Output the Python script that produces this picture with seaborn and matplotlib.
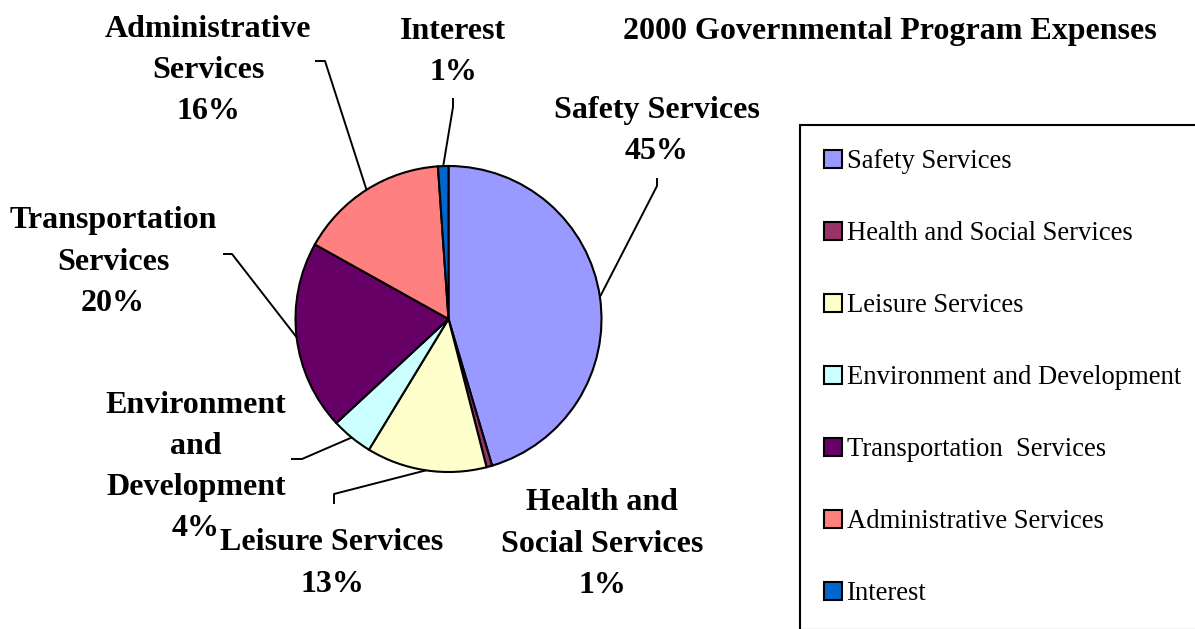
import numpy as np
import matplotlib
matplotlib.use("Agg")
import matplotlib.pyplot as plt
import seaborn as sns

# Program expense shares (percent of total), clockwise from 12 o'clock
categories = [
    "Safety Services",
    "Health and Social Services",
    "Leisure Services",
    "Environment and Development",
    "Transportation  Services",
    "Administrative Services",
    "Interest",
]
shares = [45.4, 0.6, 12.7, 4.4, 20.0, 15.8, 1.1]
slice_names = [
    "Safety Services",
    "Health and\nSocial Services",
    "Leisure Services",
    "Environment\nand\nDevelopment",
    "Transportation\nServices",
    "Administrative\nServices",
    "Interest",
]
colors = ["#9999FF", "#993366", "#FFFFCC", "#CCFFFF", "#660066", "#FF8080", "#0066CC"]
title = "2000 Governmental Program Expenses"

sns.set_theme(style="white")
plt.rcParams["font.family"] = ["Liberation Serif", "DejaVu Serif"]
plt.rcParams["text.color"] = "black"
plt.rcParams["legend.labelcolor"] = "black"

W, H = 1195, 629
fig = plt.figure(figsize=(W / 100, H / 100), dpi=100)
ax = fig.add_axes([0, 0, 1, 1])


def Y(y):
    """Convert a top-down pixel row into the upward data axis."""
    return H - y


center = (448.5, Y(319))
radius = 153

palette = sns.color_palette(colors)
wedges, _ = ax.pie(
    shares,
    colors=palette,
    startangle=90,
    counterclock=False,
    radius=radius,
    center=center,
    wedgeprops=dict(edgecolor="black", linewidth=1.5),
)
ax.set_xlim(0, W)
ax.set_ylim(0, H)
ax.set_aspect("auto")
ax.axis("off")

# label block centres and leader-line elbows (None = no leader)
label_pos = [(657, 131), (602, 544), (332, 563.5), (196, 467),
             (113, 262), (208, 70.5), (453, 52)]
leaders = [
    [(657, 186), (657, 178)],
    None,
    [(334, 494), (334, 504)],
    [(302, 459), (291, 459)],
    [(232, 254), (223, 254)],
    [(325, 61), (315, 61)],
    [(453, 107), (453, 98)],
]

for w, name, val, (lx, ly), lead in zip(wedges, slice_names, shares, label_pos, leaders):
    ax.text(lx, Y(ly), f"{name}\n{val:.0f}%", ha="center", va="center",
            fontsize=23, fontweight="bold", linespacing=1.56, color="black")
    if lead is None:
        continue
    mid = np.deg2rad((w.theta1 + w.theta2) / 2)
    x0 = center[0] + radius * np.cos(mid)
    y0 = center[1] + radius * np.sin(mid)
    xs = [x0] + [p[0] for p in lead]
    ys = [y0] + [Y(p[1]) for p in lead]
    ax.plot(xs, ys, color="black", linewidth=1.4, solid_capstyle="butt")

ax.text(890, Y(32), title, ha="center", va="center", fontsize=23,
        fontweight="bold", color="black")

leg = ax.legend(
    wedges, categories,
    loc="upper left", bbox_to_anchor=(800, Y(125)), bbox_transform=ax.transData,
    fontsize=19.2, frameon=True, fancybox=False, shadow=False,
    borderpad=0.9, borderaxespad=0, handlelength=0.66, handleheight=0.66,
    handletextpad=0.19, labelspacing=1.765,
)
frame = leg.get_frame()
frame.set_edgecolor("black")
frame.set_linewidth(1.5)
frame.set_facecolor("white")
frame.set_alpha(1)

fig.savefig("out.png", dpi=100, facecolor="white")
